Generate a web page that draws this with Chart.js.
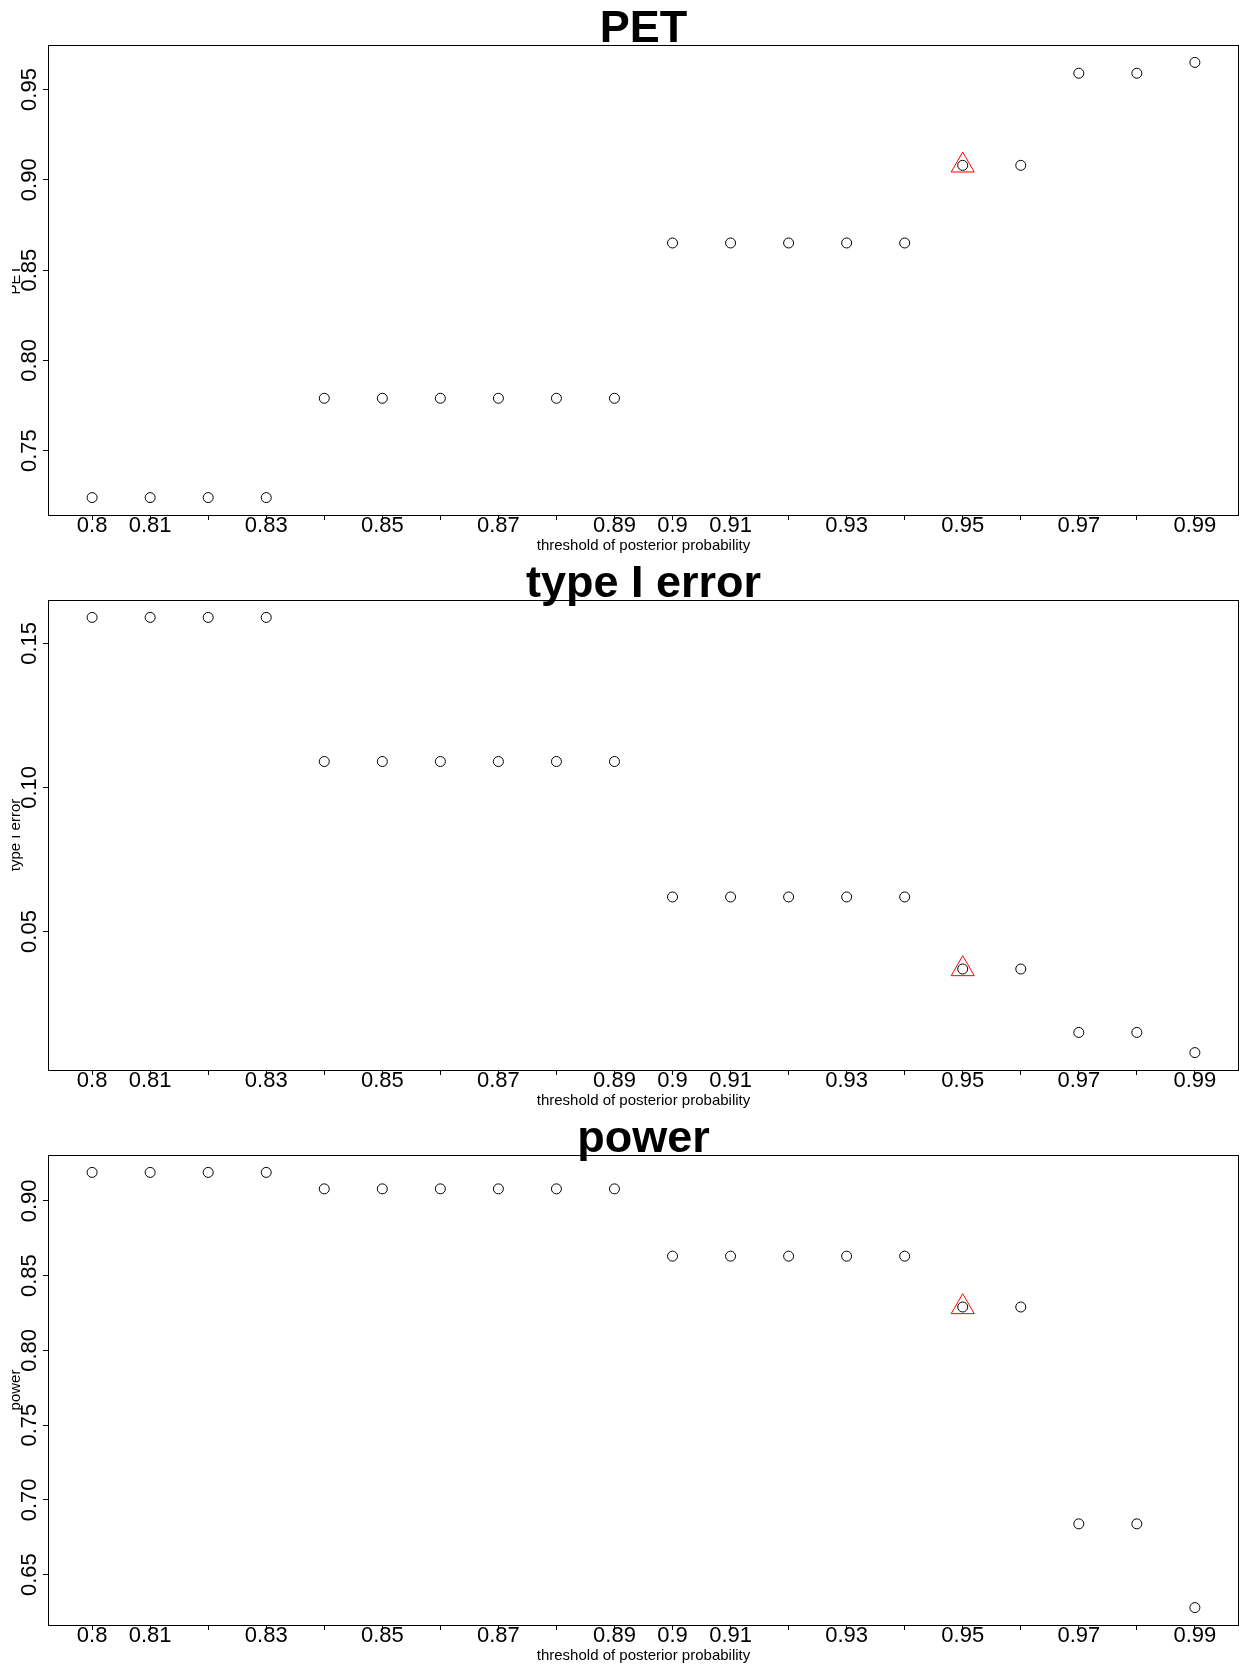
<!DOCTYPE html>
<html>
<head>
<meta charset="utf-8">
<script src="https://cdn.jsdelivr.net/npm/chart.js@4/dist/chart.umd.min.js"></script>
<style>
  body { margin: 0; background: #fff; }
  canvas { display: block; }
</style>
</head>
<body>
<canvas id="petChart" width="1248" height="555"></canvas>
<canvas id="typeChart" width="1248" height="555"></canvas>
<canvas id="powerChart" width="1248" height="555"></canvas>
<script>
// thresholds of posterior probability (x axis)
const thresholds = [0.80, 0.81, 0.82, 0.83, 0.84, 0.85, 0.86, 0.87, 0.88, 0.89,
                    0.90, 0.91, 0.92, 0.93, 0.94, 0.95, 0.96, 0.97, 0.98, 0.99];
// labels that R kept (the others were dropped because they overlap)
const xTickLabels = ['0.8', '0.81', '', '0.83', '', '0.85', '', '0.87', '', '0.89',
                     '0.9', '0.91', '', '0.93', '', '0.95', '', '0.97', '', '0.99'];

// values
const petValues = [0.724, 0.724, 0.724, 0.724, 0.779, 0.779, 0.779, 0.779, 0.779, 0.779,
                   0.865, 0.865, 0.865, 0.865, 0.865, 0.908, 0.908, 0.959, 0.959, 0.965];
const typeIErrorValues = [0.159, 0.159, 0.159, 0.159, 0.109, 0.109, 0.109, 0.109, 0.109, 0.109,
                          0.062, 0.062, 0.062, 0.062, 0.062, 0.037, 0.037, 0.015, 0.015, 0.008];
const powerValues = [0.919, 0.919, 0.919, 0.919, 0.908, 0.908, 0.908, 0.908, 0.908, 0.908,
                     0.863, 0.863, 0.863, 0.863, 0.863, 0.829, 0.829, 0.684, 0.684, 0.628];

// y tick marks of each panel
const petTicks = [0.75, 0.80, 0.85, 0.90, 0.95];
const typeIErrorTicks = [0.05, 0.10, 0.15];
const powerTicks = [0.65, 0.70, 0.75, 0.80, 0.85, 0.90];

// the chosen threshold, marked with a red triangle
const chosenThreshold = 0.95;

const fontFamily = "'Liberation Sans', Arial, Helvetica, sans-serif";

// R style axis range: data range extended by 4% on each side
function rRange(values) {
  const lo = Math.min(...values), hi = Math.max(...values);
  const ext = (hi - lo) * 0.04;
  return [lo - ext, hi + ext];
}

// frame around the plot region + clip the strip on the left like the original
const framePlugin = {
  id: 'frame',
  beforeDraw(chart) {
    const ctx = chart.ctx;
    ctx.save();
    ctx.beginPath();
    ctx.rect(12, 0, chart.width, chart.height);
    ctx.clip();
  },
  afterDraw(chart) {
    const ctx = chart.ctx;
    const a = chart.chartArea;
    ctx.restore();
    ctx.save();
    ctx.strokeStyle = '#000';
    ctx.lineWidth = 1;
    ctx.strokeRect(a.left + 0.5, a.top + 0.5, a.right - a.left - 1, a.bottom - a.top);
    ctx.restore();
  }
};

function makePanel(canvasId, title, yLabel, values, yTicks) {
  const [xMin, xMax] = rRange(thresholds);
  const [yMin, yMax] = rRange(values);
  const chosenIndex = thresholds.indexOf(chosenThreshold);

  const points = thresholds.map((t, i) => ({ x: t, y: values[i] }));

  new Chart(document.getElementById(canvasId), {
    type: 'scatter',
    data: {
      datasets: [{
        data: points,
        pointStyle: 'circle',
        pointRadius: 5,
        borderColor: '#000',
        backgroundColor: 'rgba(0,0,0,0)',
        borderWidth: 1
      }, {
        data: [{ x: chosenThreshold, y: values[chosenIndex] }],
        pointStyle: 'triangle',
        pointRadius: 13.3,
        borderColor: '#ff0000',
        backgroundColor: 'rgba(0,0,0,0)',
        borderWidth: 1
      }]
    },
    options: {
      responsive: false,
      animation: false,
      events: [],
      layout: { autoPadding: false, padding: { top: 0, right: 9, bottom: 0, left: 0 } },
      plugins: {
        legend: { display: false },
        tooltip: { enabled: false },
        title: {
          display: true,
          fullSize: false,
          text: title,
          color: '#000',
          font: { family: fontFamily, size: 45, weight: 'bold', lineHeight: 1 },
          padding: { top: 7, bottom: -7 }
        }
      },
      scales: {
        x: {
          type: 'linear',
          min: xMin,
          max: xMax,
          afterBuildTicks: s => { s.ticks = thresholds.map(v => ({ value: v })); },
          afterFit: s => { s.height = 40; s.paddingLeft = 0; s.paddingRight = 0; },
          border: { display: false },
          grid: { drawOnChartArea: false, drawTicks: true, tickLength: 5, color: '#000', tickColor: '#000' },
          ticks: {
            autoSkip: false, minRotation: 0, maxRotation: 0, padding: -7,
            color: '#000', font: { family: fontFamily, size: 22 },
            callback: (v, i) => xTickLabels[i]
          },
          title: {
            display: true,
            text: 'threshold of posterior probability',
            color: '#000',
            font: { family: fontFamily, size: 15, lineHeight: 1.2 },
            padding: { top: 0, bottom: 0 }
          }
        },
        y: {
          type: 'linear',
          min: yMin,
          max: yMax,
          afterBuildTicks: s => { s.ticks = yTicks.map(v => ({ value: v })); },
          afterFit: s => { s.width = 48; s.paddingTop = 0; s.paddingBottom = 0; },
          border: { display: false },
          grid: { drawOnChartArea: false, drawTicks: true, tickLength: 5, color: '#000', tickColor: '#000' },
          ticks: {
            minRotation: 90, maxRotation: 90, crossAlign: 'center', padding: -8,
            color: '#000', font: { family: fontFamily, size: 22 },
            callback: v => v.toFixed(2)
          },
          title: {
            display: true,
            text: yLabel,
            color: '#000',
            font: { family: fontFamily, size: 15, lineHeight: 1.2 },
            padding: { top: 7, bottom: 0 }
          }
        }
      }
    },
    plugins: [framePlugin]
  });
}

makePanel('petChart', 'PET', 'PET', petValues, petTicks);
makePanel('typeChart', 'type I error', 'type I error', typeIErrorValues, typeIErrorTicks);
makePanel('powerChart', 'power', 'power', powerValues, powerTicks);
</script>
</body>
</html>
